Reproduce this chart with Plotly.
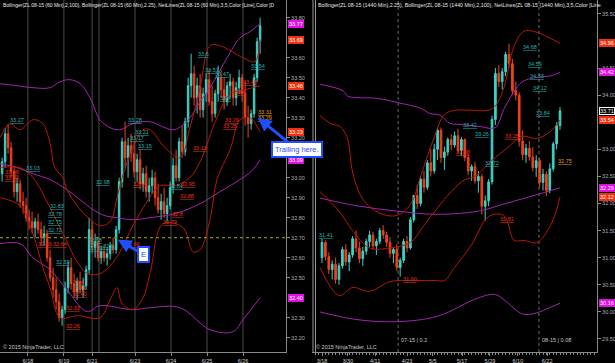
import plotly.graph_objects as go

# ---------------- LEFT PANEL : ZL 08-15 (60 Min) ----------------
L_open = [33.02,33.08,33.22,33.15,33.03,32.93,32.97,32.88,32.86,32.80,32.78,32.75,32.78,32.74,32.70,32.72,32.60,32.50,32.44,32.38,
          32.30,32.34,32.45,32.55,32.47,32.43,32.48,32.44,32.46,32.54,32.74,32.65,32.68,32.60,32.63,32.60,32.62,32.66,32.64,32.74,
          32.98,33.18,33.10,33.16,33.12,33.03,33.09,32.97,33.02,32.93,32.96,33.00,32.90,32.84,32.88,32.82,32.86,32.95,33.06,33.00,
          33.18,33.13,33.28,33.46,33.52,33.40,33.46,33.34,33.42,33.49,33.38,33.32,33.42,33.50,33.44,33.38,33.46,33.48,33.40,33.45,
          33.50,33.42,33.30,33.27,33.32,33.50,33.68]
L_high = [33.10,33.25,33.27,33.18,33.06,33.00,32.99,32.93,32.90,32.84,32.83,32.80,32.82,32.78,32.76,32.74,32.64,32.55,32.50,32.42,
          32.36,32.48,32.58,32.60,32.52,32.50,32.53,32.50,32.56,32.80,32.78,32.72,32.70,32.66,32.66,32.65,32.68,32.70,32.76,33.00,
          33.20,33.28,33.20,33.22,33.18,33.12,33.14,33.05,33.06,33.00,33.04,33.03,32.97,32.92,32.95,32.90,32.98,33.10,33.14,33.20,
          33.26,33.30,33.50,33.62,33.56,33.50,33.52,33.45,33.52,33.54,33.46,33.44,33.56,33.54,33.50,33.48,33.52,33.50,33.48,33.54,
          33.52,33.48,33.36,33.34,33.52,33.70,33.80]
L_low = [32.98,33.05,33.12,33.00,32.90,32.88,32.85,32.82,32.78,32.74,32.72,32.70,32.72,32.66,32.66,32.58,32.48,32.40,32.34,32.28,
         32.26,32.32,32.42,32.44,32.40,32.39,32.42,32.40,32.44,32.52,32.62,32.60,32.58,32.57,32.58,32.56,32.59,32.62,32.62,32.72,
         32.95,33.05,33.00,33.08,33.00,32.98,32.94,32.93,32.90,32.88,32.92,32.86,32.82,32.79,32.80,32.78,32.84,32.92,32.98,32.98,
         33.10,33.11,33.25,33.40,33.36,33.32,33.30,33.30,33.38,33.36,33.28,33.30,33.38,33.40,33.34,33.36,33.40,33.36,33.36,33.42,
         33.38,33.26,33.20,33.24,33.30,33.48,33.62]
L_close = [33.08,33.22,33.15,33.03,32.93,32.97,32.88,32.86,32.80,32.78,32.75,32.78,32.74,32.70,32.72,32.60,32.50,32.44,32.38,32.30,
           32.34,32.45,32.55,32.47,32.43,32.48,32.44,32.46,32.54,32.74,32.65,32.68,32.60,32.63,32.60,32.62,32.66,32.64,32.74,32.98,
           33.18,33.10,33.16,33.12,33.03,33.09,32.97,33.02,32.93,32.96,33.00,32.90,32.84,32.88,32.82,32.86,32.95,33.06,33.00,33.18,
           33.13,33.28,33.46,33.52,33.40,33.46,33.34,33.42,33.49,33.38,33.32,33.42,33.50,33.44,33.38,33.46,33.48,33.40,33.45,33.50,
           33.42,33.30,33.27,33.32,33.50,33.68,33.76]

# Bollinger (2,100) - magenta
L_bb100_up_x = [-0.7,5.0,10.3,16.0,19.3,22.6,26.0,29.3,32.6,36.0,39.3,43.6,49.3,54.3,57.6,62.6,66.0,69.3,75.0,79.3,82.6,86.0]
L_bb100_up_v = [33.47,33.46,33.45,33.45,33.48,33.49,33.47,33.40,33.29,33.25,33.24,33.27,33.28,33.25,33.24,33.30,33.38,33.45,33.60,33.70,33.73,33.77]
L_bb100_mid_x = [-0.7,5.0,10.3,16.0,21.6,26.0,30.3,34.3,38.3,43.6,49.3,57.6,66.0,72.6,80.3,83.6,86.0]
L_bb100_mid_v = [33.07,33.05,33.02,32.99,32.94,32.89,32.84,32.81,32.80,32.79,32.80,32.82,32.87,32.93,33.00,33.04,33.09]
L_bb100_lo_x = [-0.7,6.0,10.3,16.0,21.6,28.3,32.6,43.6,49.3,59.3,69.3,77.0,80.3,86.0]
L_bb100_lo_v = [32.67,32.67,32.60,32.54,32.44,32.33,32.36,32.34,32.35,32.35,32.24,32.23,32.29,32.40]
# Bollinger (2.25, 20) - red
L_bb20_up_x = [-0.7,2.6,6.0,10.3,13.6,16.0,17.6,20.3,21.6,25.0,28.6,32.6,36.0,38.3,40.0,43.6,47.0,49.3,54.3,59.3,62.6,66.0,69.3,72.6,80.3,84.3,86.0]
L_bb20_up_v = [33.20,33.27,33.24,33.29,33.27,33.17,33.05,33.00,32.94,32.86,32.80,32.76,32.78,32.90,33.00,33.15,33.24,33.24,33.15,33.10,33.25,33.45,33.66,33.66,33.60,33.58,33.69]
L_bb20_mid_x = [-0.7,6.0,10.3,16.0,21.6,25.0,28.6,32.6,36.0,39.3,43.6,48.3,52.6,57.6,62.6,66.0,71.6,76.0,81.0,86.0]
L_bb20_mid_v = [33.05,33.05,33.00,32.85,32.68,32.58,32.52,32.52,32.56,32.63,32.76,32.88,32.96,32.96,33.00,33.08,33.30,33.42,33.44,33.46]
L_bb20_lo_x = [-0.7,6.0,10.3,13.6,16.0,19.3,25.0,32.6,36.0,38.3,40.0,43.6,47.0,49.3,53.6,60.3,63.6,66.0,69.3,71.6,76.0,79.3,82.6,86.0]
L_bb20_lo_v = [32.90,32.86,32.72,32.55,32.45,32.30,32.31,32.30,32.39,32.45,32.37,32.34,32.40,32.52,32.77,32.75,32.63,32.64,32.79,32.99,33.14,33.29,33.30,33.23]

L_day_x = [8.6, 20.6, 30.0, 32.3, 44.3, 56.3, 68.3, 80.3]
L_tick_x = [8.6, 20.6, 30.0, 44.3, 56.3, 68.3, 80.3]
L_tick_text = ["6/18", "6/19", "6/21", "6/23", "6/24", "6/25", "6/26"]
L_ytick = [32.2,32.3,32.5,32.6,32.7,32.8,32.9,33.0,33.2,33.3,33.4,33.5,33.6,33.8]
L_level = 32.70

L_lab_hi = [("33.27",5.0,33.29),("33.03",10.3,33.05),("32.83",18.3,32.86),("32.78",17.6,32.82),("32.75",17.6,32.78),
            ("32.72",17.6,32.74),("32.59",20.3,32.58),("32.98",33.6,32.98),("32.68",31.0,32.69),("32.62",31.6,32.65),
            ("32.6",35.3,32.66),("33.28",44.3,33.29),("33.21",46.6,33.23),("33.17",45.0,33.20),("33.15",47.6,33.16),
            ("32.84",58.0,32.96),("33.6",67.0,33.62),("33.51",70.0,33.54),("33.47",73.3,33.52),("33.4",74.3,33.40),("33.54",85.3,33.56)]
L_lab_lo = [("33.08",3.3,33.03),("33.00",3.3,33.00),("32.66",14.3,32.67),("32.64",19.3,32.67),("32.4",25.3,32.48),
            ("32.41",25.6,32.45),("32.40",26.0,32.42),("32.33",23.6,32.35),("32.26",23.6,32.26),("32.66",43.6,32.67),
            ("32.94",46.0,32.97),("32.95",62.0,32.97),("32.88",61.6,32.91),("32.8",58.3,32.82),("32.79",56.0,32.78),
            ("33.13",66.0,33.15),("33.48",82.6,33.48),("33.4",79.3,33.43),("33.29",76.6,33.29),("33.25",76.0,33.26)]
L_lab_or = [("33.31",87.6,33.33),("33.29",87.6,33.30)]
L_badges = [("33.77",33.77,"#e010e0"),("33.69",33.69,"#f03010"),("33.46",33.46,"#f03010"),
            ("33.23",33.23,"#f03010"),("33.09",33.09,"#e010e0"),("32.40",32.40,"#e010e0")]

# ---------------- RIGHT PANEL : ZL 08-15 (1440 Min) ----------------
R_open = [31.00,31.28,31.02,30.78,30.88,30.60,30.85,31.15,30.92,31.05,31.35,31.18,30.98,31.12,31.30,31.42,31.22,31.30,31.50,31.42,
          31.28,31.08,31.15,30.82,30.95,31.30,31.18,31.70,32.15,32.00,32.45,32.30,32.75,32.60,33.00,33.35,32.85,32.95,33.18,33.08,
          33.25,32.98,33.18,32.85,32.60,32.68,32.42,32.50,31.95,32.05,32.40,33.55,34.40,34.25,34.43,34.75,34.58,34.08,34.00,33.15,
          32.90,33.02,32.86,32.66,32.79,32.39,32.54,32.24,32.64,33.10,33.44]
R_high = [31.35,31.32,31.10,30.95,31.00,30.90,31.20,31.25,31.10,31.40,31.50,31.30,31.20,31.35,31.50,31.48,31.35,31.55,31.60,31.48,
          31.38,31.20,31.25,31.00,31.35,31.40,31.75,32.15,32.35,32.50,32.60,32.80,33.00,33.10,33.40,33.40,33.05,33.22,33.28,33.33,
          33.38,33.23,33.20,32.92,32.72,32.77,32.60,32.55,32.15,32.45,33.62,34.50,34.55,34.50,34.80,34.95,34.67,34.25,34.05,33.35,
          33.10,33.15,33.04,32.89,32.84,32.64,32.59,32.74,33.14,33.50,33.78]
R_low = [30.90,30.95,30.70,30.60,30.52,30.50,30.80,30.85,30.75,31.00,31.10,30.90,30.85,31.05,31.20,31.15,31.05,31.25,31.35,31.20,
         31.00,30.90,30.75,30.65,30.90,31.10,31.15,31.65,31.90,31.95,32.20,32.25,32.50,32.55,32.80,32.75,32.62,32.88,32.98,33.03,
         32.93,32.88,32.78,32.52,32.42,32.37,32.20,31.80,31.68,31.95,32.35,33.45,34.15,34.10,34.35,34.50,34.00,33.90,33.05,32.80,
         32.75,32.79,32.59,32.49,32.29,32.24,32.14,32.19,32.59,33.00,33.36]
R_close = [31.28,31.02,30.78,30.88,30.60,30.85,31.15,30.92,31.05,31.35,31.18,30.98,31.12,31.30,31.42,31.22,31.30,31.50,31.42,31.28,
           31.08,31.15,30.82,30.95,31.30,31.18,31.70,32.15,32.00,32.45,32.30,32.75,32.60,33.00,33.35,32.85,32.95,33.18,33.08,33.25,
           32.98,33.18,32.85,32.60,32.68,32.42,32.50,31.95,32.05,32.40,33.55,34.40,34.25,34.43,34.75,34.58,34.08,34.00,33.15,32.90,
           33.02,32.86,32.66,32.79,32.39,32.54,32.24,32.64,33.10,33.44,33.71]

R_bb100_up_x = [-0.6,6.2,7.6,16.2,22.4,28.8,31.8,34.7,37.6,40.6,46.5,50.9,53.8,58.8,62.6,67.6,70.0]
R_bb100_up_v = [34.20,34.08,33.98,33.94,33.86,33.76,33.66,33.63,33.48,33.46,33.42,33.40,33.78,34.24,34.32,34.36,34.42]
R_bb100_mid_x = [-0.6,10,22,34,46,54,62,70]
R_bb100_mid_v = [32.10,31.96,31.86,31.80,31.86,32.00,32.14,32.29]
R_bb100_lo_x = [-0.6,10,22,34,46,51,54,59,63,67,70]
R_bb100_lo_v = [30.00,29.86,29.82,29.92,30.26,30.32,30.20,29.96,29.98,30.08,30.16]
R_bb20_up_x = [-0.6,2.4,5.3,7.4,9.1,12,17,22,26,29,33,36,39,44,49,51,53.5,56.5,59.4,63.2,67.4,70]
R_bb20_up_v = [33.62,33.48,33.42,33.22,32.55,32.08,31.82,31.78,31.98,32.50,33.22,33.64,33.72,33.72,33.72,33.80,34.14,34.90,35.18,35.16,35.04,34.96]
R_bb20_mid_x = [-0.6,5,9,14,20,26,30,34,38,42,45,50,54,59,63,67,70]
R_bb20_mid_v = [32.22,31.86,31.50,31.18,31.18,31.28,31.60,31.92,32.22,32.44,32.50,32.80,33.00,33.24,33.20,33.32,33.54]
R_bb20_lo_x = [-0.6,5,9,14,20,26,29,33,36,39,44,49,53.5,56.5,59.4,63.2,67.4,70]
R_bb20_lo_v = [30.82,30.30,30.45,30.38,30.56,30.58,30.58,30.58,30.58,30.82,31.24,31.76,31.78,31.32,31.32,31.28,31.62,32.12]

R_roll_x = [22.4, 63.8]
R_roll_text = ["07-15 | 0.2", "08-15 | 0.08"]
R_tick_x = [0, 7.6, 15.6, 25, 32.6, 41.2, 49.4, 57.6, 66.2]
R_tick_text = ["3/18", "3/30", "4/11", "4/23", "5/5", "5/17", "5/29", "6/10", "6/22"]
R_ytick = [29.5,30.0,30.5,31.0,31.5,32.0,32.5,33.0,34.0,34.5,35.5]

R_lab_hi = [("31.41",1.2,31.42),("33.42",43.5,33.45),("33.26",47.0,33.28),("32.72",50.0,32.74),("34.68",61.2,34.88),
            ("34.59",62.6,34.58),("34.33",63.2,34.35),("34.12",64.1,34.13),("33.84",65.0,33.67)]
R_lab_lo = [("33.25",55.9,33.25),("32.88",41.5,32.95),("31.81",54.4,31.72),("31.60",25.9,30.60)]
R_lab_or = [("32.75",71.5,32.78)]
R_badges = [("34.96",34.96,"#f03010"),("34.42",34.42,"#e010e0"),("33.71",33.71,"#000000"),
            ("33.54",33.54,"#f03010"),("32.29",32.29,"#e010e0"),("32.12",32.12,"#f03010"),("30.16",30.16,"#e010e0")]

# ---------------- styling ----------------
W, H = 615, 363
UP, DN = "#3fd2c6", "#f0401c"
MAG, RED = "#a424b0", "#b81808"
CYAN_T, RED_T, ORG_T = "#26b0b0", "#e83018", "#e09a10"
BLUE = "#1f4fff"
FONT = "Liberation Sans"
px = lambda v: v / W
ybot = 11 / H

fig = go.Figure()

def candles(o, h, l, c, xa, ya):
    fig.add_trace(go.Candlestick(
        x=list(range(len(o))), open=o, high=h, low=l, close=c, xaxis=xa, yaxis=ya,
        increasing=dict(line=dict(color=UP, width=1), fillcolor=UP),
        decreasing=dict(line=dict(color=DN, width=1), fillcolor=DN),
        whiskerwidth=0, showlegend=False, hoverinfo="skip"))

def band(xs, vs, color, xa, ya, w=1):
    fig.add_trace(go.Scatter(x=xs, y=vs, mode="lines", line=dict(color=color, width=w, shape="spline", smoothing=1),
                             xaxis=xa, yaxis=ya, showlegend=False, hoverinfo="skip"))

shapes = []
for d in L_day_x:
    shapes.append(dict(type="line", xref="x", yref="paper", x0=d, x1=d, y0=ybot, y1=1, line=dict(color="#4a4a4a", width=1), layer="below"))
for d in R_roll_x:
    shapes.append(dict(type="line", xref="x2", yref="paper", x0=d, x1=d, y0=ybot, y1=1, line=dict(color="#6a6a6a", width=1, dash="dot"), layer="below"))
shapes.append(dict(type="line", xref="x domain", yref="y", x0=0, x1=1, y0=L_level, y1=L_level, line=dict(color="#7f8f00", width=1.2, dash="dot")))
for xp in (313, 315.5):
    shapes.append(dict(type="line", xref="paper", yref="paper", x0=px(xp), x1=px(xp), y0=ybot, y1=1, line=dict(color="#9a9a9a", width=1)))

band(L_bb100_up_x, L_bb100_up_v, MAG, "x", "y")
band(L_bb100_mid_x, L_bb100_mid_v, MAG, "x", "y")
band(L_bb100_lo_x, L_bb100_lo_v, MAG, "x", "y")
band(L_bb20_up_x, L_bb20_up_v, RED, "x", "y")
band(L_bb20_mid_x, L_bb20_mid_v, RED, "x", "y")
band(L_bb20_lo_x, L_bb20_lo_v, RED, "x", "y")
candles(L_open, L_high, L_low, L_close, "x", "y")

band(R_bb100_up_x, R_bb100_up_v, MAG, "x2", "y2")
band(R_bb100_mid_x, R_bb100_mid_v, MAG, "x2", "y2")
band(R_bb100_lo_x, R_bb100_lo_v, MAG, "x2", "y2")
band(R_bb20_up_x, R_bb20_up_v, RED, "x2", "y2")
band(R_bb20_mid_x, R_bb20_mid_v, RED, "x2", "y2")
band(R_bb20_lo_x, R_bb20_lo_v, RED, "x2", "y2")
candles(R_open, R_high, R_low, R_close, "x2", "y2")

ann = []
def labels(lst, color, xr, yr):
    for t, x, y in lst:
        ann.append(dict(text="<u>%s</u>" % t, x=x, y=y, xref=xr, yref=yr, showarrow=False,
                        font=dict(family=FONT, size=5.5, color=color)))
labels(L_lab_hi, CYAN_T, "x", "y")
labels(L_lab_lo, RED_T, "x", "y")
labels(L_lab_or, ORG_T, "x", "y")
labels(R_lab_hi, CYAN_T, "x2", "y2")
labels(R_lab_lo, RED_T, "x2", "y2")
labels(R_lab_or, ORG_T, "x2", "y2")

def badges(lst, xp, yr):
    for t, v, col in lst:
        ann.append(dict(text=t, x=px(xp), y=v, xref="paper", yref=yr, xanchor="left", showarrow=False,
                        bgcolor=col, bordercolor="#ffffff" if col == "#000000" else col, borderwidth=1, borderpad=0,
                        font=dict(family=FONT, size=5.5, color="#ffffff")))
badges(L_badges, 288, "y")
badges(R_badges, 598.5, "y2")

ann.append(dict(text="Bollinger(ZL 08-15 (60 Min),2,100), Bollinger(ZL 08-15 (60 Min),2.25), NetLines(ZL 08-15 (60 Min),3,5,Color [Line],Color [D",
                x=px(1), y=1, xref="paper", yref="paper", xanchor="left", yanchor="top", showarrow=False,
                font=dict(family=FONT, size=5, color="#e8e8e8")))
ann.append(dict(text="Bollinger(ZL 08-15 (1440 Min),2.25), Bollinger(ZL 08-15 (1440 Min),2,100), NetLines(ZL 08-15 (1440 Min),3,5,Color [Line",
                x=px(316), y=1, xref="paper", yref="paper", xanchor="left", yanchor="top", showarrow=False,
                font=dict(family=FONT, size=5.3, color="#e8e8e8")))
for xp in (1, 314):
    ann.append(dict(text="© 2015 NinjaTrader, LLC", x=px(xp), y=(H - 347) / H, xref="paper", yref="paper",
                    xanchor="left", yanchor="middle", showarrow=False, font=dict(family=FONT, size=5.5, color="#c8c8c8")))
for d, t in zip(R_roll_x, R_roll_text):
    ann.append(dict(text=t, x=d, y=(H - 340) / H, xref="x2", yref="paper", xanchor="left", yanchor="middle",
                    xshift=1, showarrow=False, font=dict(family=FONT, size=5.5, color="#c8c8c8")))

ann.append(dict(text="Trailing here.", x=85.3, y=33.30, xref="x", yref="y", ax=39, ay=32, showarrow=True,
                arrowhead=2, arrowsize=0.9, arrowwidth=3, arrowcolor=BLUE, bgcolor="#ffffff", bordercolor=BLUE,
                borderwidth=2, borderpad=2, font=dict(family=FONT, size=7.5, color=BLUE)))
ann.append(dict(text="E", x=38.6, y=32.69, xref="x", yref="y", ax=26, ay=15, showarrow=True,
                arrowhead=2, arrowsize=0.9, arrowwidth=3, arrowcolor=BLUE, bgcolor="#ffffff", bordercolor=BLUE,
                borderwidth=2, borderpad=2, font=dict(family=FONT, size=8, color=BLUE)))

axis_common = dict(showgrid=False, zeroline=False, showline=True, linecolor="#8a8a8a", linewidth=1,
                   ticks="outside", ticklen=3, tickcolor="#8a8a8a", fixedrange=True, automargin=False)
fig.update_layout(
    width=W, height=H, margin=dict(l=0, r=0, t=0, b=0, autoexpand=False), paper_bgcolor="#000000", plot_bgcolor="#000000",
    showlegend=False, shapes=shapes, annotations=ann,
    xaxis=dict(domain=[0, px(286)], range=[-0.7, 94.63], anchor="y", tickmode="array", tickvals=L_tick_x,
               ticktext=L_tick_text, tickfont=dict(family=FONT, size=5.5, color="#d0d0d0"),
               rangeslider=dict(visible=False), **axis_common),
    yaxis=dict(domain=[ybot, 1], range=[32.1285, 33.8885], anchor="x", side="right", tickmode="array",
               tickvals=L_ytick, tickformat=".2f", tickfont=dict(family=FONT, size=5.5, color="#b0b0b0"), **axis_common),
    xaxis2=dict(domain=[px(312), px(597)], range=[-2.94, 80.88], anchor="y2", tickmode="array", tickvals=R_tick_x,
                ticktext=R_tick_text, tickfont=dict(family=FONT, size=5.5, color="#d0d0d0"),
                minor=dict(tickmode="linear", tick0=0, dtick=1, ticklen=2, tickcolor="#8a8a8a", ticks="outside", showgrid=False),
                rangeslider=dict(visible=False), **axis_common),
    yaxis2=dict(domain=[ybot, 1], range=[29.26, 35.755], anchor="x2", side="right", tickmode="array",
                tickvals=R_ytick, tickformat=".2f", tickfont=dict(family=FONT, size=5.5, color="#b0b0b0"), **axis_common),
)
fig.write_html("out.html", config={"displayModeBar": False},
               post_script="document.body.style.margin='0';document.body.style.padding='0';document.body.style.overflow='hidden';")
